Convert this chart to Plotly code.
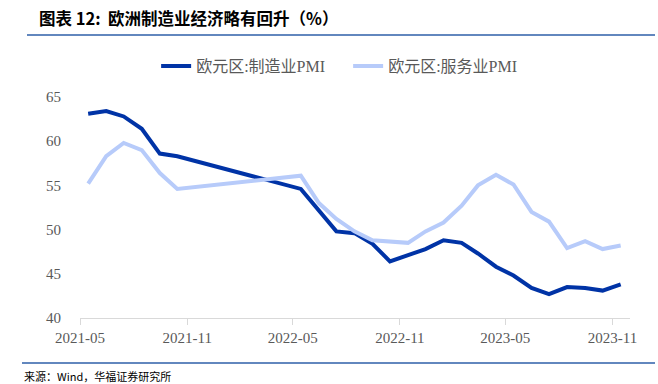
import plotly.graph_objects as go

months = ["2021-05","2021-06","2021-07","2021-08","2021-09","2021-10","2021-11","2021-12",
          "2022-01","2022-02","2022-03","2022-04","2022-05","2022-06","2022-07","2022-08",
          "2022-09","2022-10","2022-11","2022-12","2023-01","2023-02","2023-03","2023-04",
          "2023-05","2023-06","2023-07","2023-08","2023-09","2023-10","2023-11"]
manufacturing = [63.1, 63.4, 62.8, 61.4, 58.6, 58.3, None, None,
                 None, None, None, None, 54.6, 52.1, 49.8, 49.6,
                 48.4, 46.4, 47.1, 47.8, 48.8, 48.5, 47.3, 45.8,
                 44.8, 43.4, 42.7, 43.5, 43.4, 43.1, 43.8]
services = [55.2, 58.3, 59.8, 59.0, 56.4, 54.6, None, None,
            None, None, None, None, 56.1, 53.0, 51.2, 49.8,
            48.8, 48.6, 48.5, 49.8, 50.8, 52.7, 55.0, 56.2,
            55.1, 52.0, 50.9, 47.9, 48.7, 47.8, 48.2]
tick_vals = ["2021-05-01","2021-11-01","2022-05-01","2022-11-01","2023-05-01","2023-11-01"]
tick_text = ["2021-05","2021-11","2022-05","2022-11","2023-05","2023-11"]
series_names = ["欧元区:制造业PMI", "欧元区:服务业PMI"]
title_text = "<b>图表 12:  欧洲制造业经济略有回升（%）</b>"
source_text = "来源：Wind，华福证券研究所"

x = [m + "-15" for m in months]
serif = "Liberation Serif, Times New Roman, Noto Sans CJK SC, serif"
gray = "#595959"

fig = go.Figure()
fig.add_trace(go.Scatter(x=x, y=manufacturing, mode="lines", name=series_names[0],
                         line=dict(color="#0033A6", width=4), connectgaps=True))
fig.add_trace(go.Scatter(x=x, y=services, mode="lines", name=series_names[1],
                         line=dict(color="#B7CBFA", width=4), connectgaps=True))

fig.update_layout(
    width=658, height=384,
    margin=dict(l=80, r=28, t=97, b=66),
    paper_bgcolor="white", plot_bgcolor="white",
    showlegend=True,
    legend=dict(orientation="h", x=0.4875, xanchor="center", y=1.14, yanchor="middle",
                font=dict(family=serif, size=16, color=gray),
                entrywidth=147, entrywidthmode="pixels",
                itemwidth=30, tracegroupgap=0, bgcolor="rgba(0,0,0,0)"),
    xaxis=dict(type="date", range=["2021-05-01", "2023-12-01"],
               tickvals=tick_vals, ticktext=tick_text,
               showgrid=False, showline=True, linecolor="#D9D9D9", linewidth=1,
               ticks="outside", ticklen=6, tickcolor="#D9D9D9",
               tickfont=dict(family=serif, size=15, color=gray), zeroline=False),
    yaxis=dict(range=[40, 65], tickvals=[40, 45, 50, 55, 60, 65],
               showgrid=False, showline=False, zeroline=False, ticks="",
               ticklabelstandoff=18,
               tickfont=dict(family=serif, size=15, color=gray)),
    annotations=[
        dict(text=title_text, xref="paper", yref="paper", x=(37-80)/550, y=1+ (97-18)/221,
             xanchor="left", yanchor="middle", showarrow=False,
             font=dict(family="Noto Sans CJK SC, sans-serif", size=16.5, color="#000000")),
        dict(text=source_text, xref="paper", yref="paper", x=(22-80)/550, y=-(376-318)/221,
             xanchor="left", yanchor="middle", showarrow=False,
             font=dict(family="Noto Sans CJK SC, sans-serif", size=11, color="#000000")),
    ],
    shapes=[
        dict(type="line", xref="paper", yref="paper", x0=(27-80)/550, x1=(655-80)/550,
             y0=1+(97-35)/221, y1=1+(97-35)/221, line=dict(color="#2E5FA8", width=1.5)),
        dict(type="line", xref="paper", yref="paper", x0=(22-80)/550, x1=(655-80)/550,
             y0=-(363-318)/221, y1=-(363-318)/221, line=dict(color="#2E5FA8", width=1.5)),
    ],
)

fig.write_html("out.html", config={"displayModeBar": False},
               post_script="document.body.style.margin='0';")
